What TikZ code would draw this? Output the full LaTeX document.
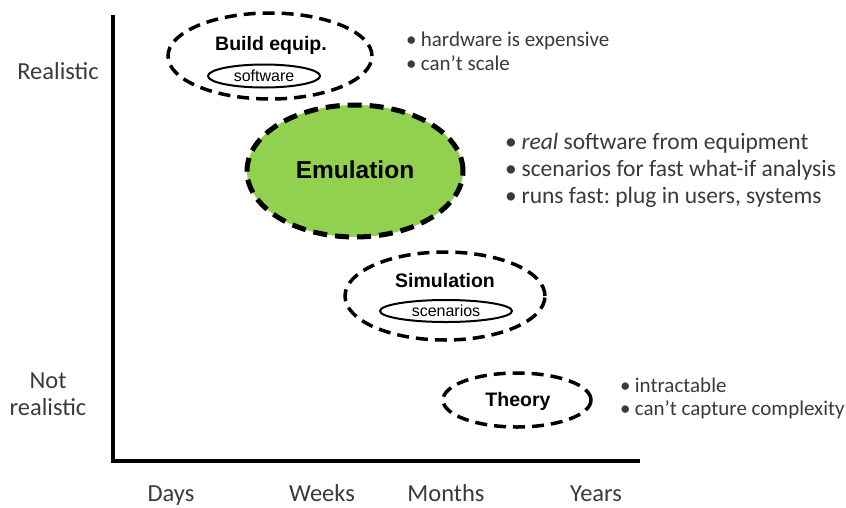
\documentclass[tikz,border=0pt]{standalone}
\usepackage{fontspec}
\setmainfont{Carlito}
\newfontfamily\arialfont{Liberation Sans}
\usetikzlibrary{shapes.geometric}
\definecolor{emugreen}{HTML}{92D050}
\definecolor{txtgray}{HTML}{3A3A3A}
\newcommand{\pt}{\textbullet\hspace{0.2em}}
\frenchspacing

\begin{document}
\begin{tikzpicture}[x=1pt,y=-1pt,
  zone/.style={ellipse,draw,line width=3.5pt,dash pattern=on 12pt off 7pt,inner sep=0pt},
  zonetext/.style={font=\arialfont\bfseries\fontsize{19.5}{22}\selectfont,inner sep=0pt},
  tag/.style={ellipse,draw,line width=2pt,inner sep=0pt,font=\arialfont\fontsize{16}{18}\selectfont},
  note/.style={anchor=base west,inner sep=0pt,text=txtgray,font=\fontsize{21}{24}\selectfont},
  axlabel/.style={anchor=base,inner sep=0pt,text=txtgray,font=\fontsize{24.5}{27}\selectfont}]
\useasboundingbox (0,0) rectangle (846,507);
% axes
\coordinate (top) at (113,15);
\coordinate (origin) at (113,461);
\coordinate (right) at (640,461);
\draw[line width=4pt] (top) -- (origin) -- (right);
\node[axlabel] (real) at (58,79) {Realistic};
\node[axlabel] (notreal) at (48,388) {Not};
\node[axlabel] (notreal2) at (48,415) {realistic};
\node[axlabel] (days) at (171,501) {Days};
\node[axlabel] (weeks) at (322,501) {Weeks};
\node[axlabel] (months) at (446,501) {Months};
\node[axlabel] (years) at (596,501) {Years};
% build equipment
\node[zone,minimum width=204,minimum height=86] (build) at (270,56) {};
\node[zonetext] (buildlbl) at (271,45) {Build equip.};
\node[tag,minimum width=112,minimum height=23] (soft) at (264,76) {software};
\node[note] (hw1) at (406,46) {\pt hardware is expensive};
\node[note] (hw2) at (406,70) {\pt can’t scale};
% emulation
\node[zone,fill=emugreen,line width=5pt,dash pattern=on 14pt off 8pt,
  minimum width=216,minimum height=132] (emu) at (355,171) {};
\node[zonetext,font=\arialfont\bfseries\fontsize{24.5}{27}\selectfont] (emulbl) at (355,170) {Emulation};
\node[note,font=\fontsize{23.5}{27}\selectfont] (em1) at (505,149) {\pt\textit{real} software from equipment};
\node[note,font=\fontsize{23.5}{27}\selectfont] (em2) at (505,176) {\pt scenarios for fast what-if analysis};
\node[note,font=\fontsize{23.5}{27}\selectfont] (em3) at (505,203) {\pt runs fast: plug in users, systems};
% simulation
\node[zone,minimum width=200,minimum height=88] (sim) at (445,296) {};
\node[zonetext] (simlbl) at (445,281) {Simulation};
\node[tag,minimum width=132,minimum height=22] (scen) at (446,311) {scenarios};
% theory
\node[zone,minimum width=148,minimum height=54] (theory) at (517,400) {};
\node[zonetext] (theorylbl) at (518,401) {Theory};
\node[note] (th1) at (620,392) {\pt intractable};
\node[note] (th2) at (620,415) {\pt can’t capture complexity};
\end{tikzpicture}
\end{document}
